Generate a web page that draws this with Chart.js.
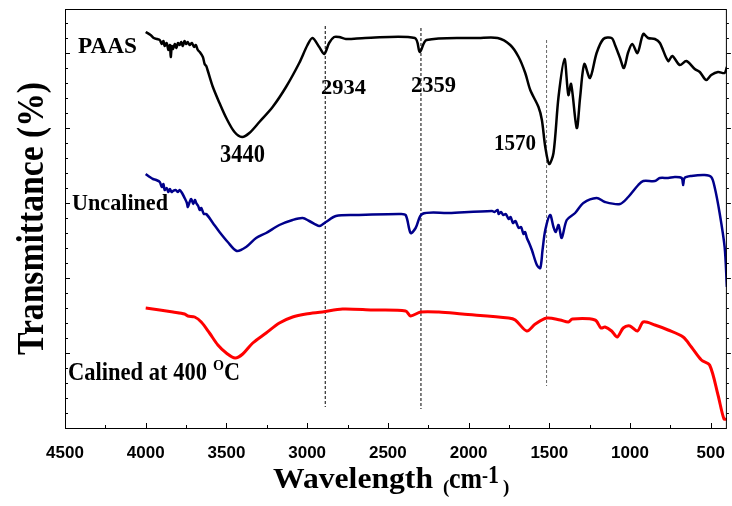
<!DOCTYPE html>
<html>
<head>
<meta charset="utf-8">
<script src="https://cdn.jsdelivr.net/npm/chart.js@4.4.0/dist/chart.umd.min.js"></script>
<style>
  html, body { margin: 0; padding: 0; background: #fff; }
  #grafico { display: block; }
</style>
</head>
<body>
<canvas id="grafico" width="732" height="506"></canvas>
<script>
// wavenumber (cm-1) and transmittance (arbitrary offset units)
const paasWn = [4000, 3970, 3950, 3930, 3913, 3900, 3890, 3883, 3870, 3860, 3850, 3845, 3838, 3831, 3820, 3810, 3800, 3790, 3780, 3770, 3760, 3750, 3740, 3728, 3715, 3700, 3690, 3677, 3665, 3646, 3635, 3625, 3615, 3584, 3543, 3501, 3450, 3403, 3358, 3296, 3214, 3131, 3049, 2998, 2967, 2925, 2894, 2864, 2833, 2802, 2760, 2641, 2333, 2302, 2260, 1937, 1820, 1742, 1690, 1649, 1618, 1567, 1546, 1525, 1501, 1474, 1443, 1406, 1382, 1365, 1330, 1309, 1283, 1248, 1207, 1165, 1114, 1093, 1062, 1038, 1011, 986, 954, 918, 888, 846, 815, 764, 738, 692, 651, 599, 568, 528, 497, 455, 414, 400];
const paasT = [396, 393, 390, 389, 388, 384, 387, 382, 385, 378, 383, 371, 382, 379, 384, 380, 385, 383, 386, 382, 387, 384, 386, 383, 385, 381, 383, 378, 376, 371, 364, 362, 357, 341, 325, 310, 296, 291, 295, 306, 321, 341, 365, 383, 390, 381, 374, 385, 391, 391, 389, 390, 390, 376, 388, 390, 390, 383, 371, 355, 338, 321, 308, 281, 264, 275, 331, 369, 333, 344, 300, 331, 364, 350, 375, 389, 390, 383, 370, 360, 376, 384, 375, 394, 390, 389, 385, 367, 372, 363, 367, 359, 356, 348, 353, 356, 355, 361];

const uncalWn = [4000, 3975, 3955, 3935, 3913, 3900, 3890, 3883, 3870, 3860, 3850, 3840, 3831, 3815, 3800, 3790, 3775, 3759, 3745, 3739, 3728, 3718, 3705, 3695, 3687, 3675, 3665, 3656, 3640, 3625, 3584, 3543, 3492, 3436, 3378, 3316, 3254, 3172, 3090, 3028, 2987, 2925, 2884, 2822, 2699, 2431, 2390, 2359, 2328, 2287, 2123, 1855, 1840, 1820, 1814, 1800, 1785, 1770, 1752, 1740, 1725, 1710, 1690, 1675, 1660, 1650, 1639, 1625, 1608, 1577, 1556, 1542, 1525, 1495, 1474, 1460, 1443, 1423, 1392, 1340, 1289, 1207, 1155, 1062, 1011, 949, 918, 846, 815, 764, 723, 680, 671, 662, 620, 538, 497, 476, 445, 414, 400];
const uncalT = [254, 251, 249, 248, 246, 241, 244, 238, 240, 236, 239, 236, 237, 238, 236, 238, 235, 230, 225, 221, 226, 229, 224, 228, 225, 222, 218, 220, 214, 214, 205, 196, 186, 177, 181, 190, 195, 203, 208, 210, 207, 202, 206, 212, 213, 214, 213, 195, 200, 214, 215, 217, 216, 218, 214, 216, 213, 214, 209, 211, 205, 207, 200, 201, 194, 196, 190, 185, 178, 163, 160, 178, 198, 213, 201, 196, 203, 190, 208, 215, 225, 230, 226, 224, 231, 243, 247, 247, 250, 250, 251, 250, 243, 250, 252, 253, 251, 241, 215, 181, 141];

const calWn = [4000, 3913, 3831, 3759, 3739, 3697, 3656, 3605, 3553, 3501, 3446, 3399, 3337, 3254, 3172, 3090, 3007, 2905, 2781, 2596, 2390, 2359, 2297, 2184, 2040, 1752, 1711, 1639, 1587, 1516, 1433, 1382, 1357, 1217, 1180, 1155, 1114, 1079, 1042, 1001, 954, 918, 846, 764, 671, 620, 558, 507, 455, 418, 400];
const calT = [120, 118, 116, 114, 112, 111, 106, 95, 83, 75, 70, 74, 85, 95, 105, 111, 114, 116, 119, 118, 117, 112, 116, 116, 114, 110, 108, 97, 104, 110, 108, 106, 109, 108, 100, 101, 97, 91, 100, 102, 97, 106, 103, 98, 91, 81, 68, 63, 33, 9, 9];

// reference lines: position and vertical extent
const markWn = [2888, 2295, 1517];
const markTop = [402, 400, 388];
const markBottom = [21, 19, 42];

const xTicks = [4500, 4000, 3500, 3000, 2500, 2000, 1500, 1000, 500];

const puntos = (xs, ys) => xs.map((x, i) => ({ x: x, y: ys[i] }));

const serif = '"Liberation Serif", "Times New Roman", serif';

function texto(ctx, s, x, y, size, width) {
  ctx.save();
  ctx.font = 'bold ' + size + 'px ' + serif;
  const w = ctx.measureText(s).width;
  ctx.translate(x, y);
  if (width) ctx.scale(width / w, 1);
  ctx.fillText(s, 0, 0);
  ctx.restore();
}

const marco = {
  id: 'marco',
  afterDraw(chart) {
    const ctx = chart.ctx;
    const a = chart.chartArea;
    const xs = chart.scales.x;
    ctx.save();
    ctx.strokeStyle = '#000';
    ctx.lineWidth = 1;
    ctx.strokeRect(a.left + 0.5, a.top + 0.5, a.right - a.left - 1, a.bottom - a.top);

    // ticks on the bottom axis
    ctx.beginPath();
    for (let v = 4500; v >= 500; v -= 250) {
      const px = Math.round(xs.getPixelForValue(v)) + 0.5;
      const len = v % 500 === 0 ? 5 : 3;
      ctx.moveTo(px, a.bottom);
      ctx.lineTo(px, a.bottom - len);
    }
    // ticks on left and right sides
    for (let py = a.bottom - 15, i = 1; py > a.top; py -= 15, i++) {
      const len = i % 5 === 0 ? 5 : 3;
      ctx.moveTo(a.left, Math.round(py) + 0.5);
      ctx.lineTo(a.left + len, Math.round(py) + 0.5);
      ctx.moveTo(a.right, Math.round(py) + 0.5);
      ctx.lineTo(a.right + len - 1, Math.round(py) + 0.5);
    }
    ctx.stroke();

    ctx.fillStyle = '#000';
    ctx.textBaseline = 'alphabetic';
    texto(ctx, 'PAAS', 78, 53, 24, 59);
    texto(ctx, '3440', 220, 162, 25, 45);
    texto(ctx, '2934', 321, 94, 22, 45);
    texto(ctx, '2359', 411, 92, 23, 45);
    texto(ctx, '1570', 494, 150, 24, 42);
    texto(ctx, 'Uncalined', 72, 210, 24, 96);
    texto(ctx, 'Calined at 400', 68, 380, 25, 139);
    texto(ctx, 'O', 213, 370, 15, 11);
    texto(ctx, 'C', 224, 380, 25, 16);

    // axis titles
    texto(ctx, 'Wavelength', 273, 488, 29, 160);
    texto(ctx, '(', 443, 493, 19);
    texto(ctx, 'cm', 449, 488, 29, 33);
    texto(ctx, '-', 482, 482, 22, 6);
    texto(ctx, '1', 488, 483, 25, 11);
    texto(ctx, ')', 503, 493, 19);

    ctx.save();
    ctx.translate(43, 355);
    ctx.rotate(-Math.PI / 2);
    texto(ctx, 'Transmittance (%)', 0, 0, 38, 273);
    ctx.restore();
    ctx.restore();
  }
};

const curva = (data, color, ancho) => ({
  data: data,
  borderColor: color,
  borderWidth: ancho,
  pointRadius: 0,
  tension: 0.3,
  fill: false
});

const marcas = markWn.map((w, i) => ({
  data: [{ x: w, y: markTop[i] }, { x: w, y: markBottom[i] }],
  borderColor: i === 2 ? '#666' : '#000',
  borderWidth: 1,
  borderDash: [3, 2],
  pointRadius: 0,
  fill: false
}));

const ctx = document.getElementById('grafico').getContext('2d');

new Chart(ctx, {
  type: 'line',
  data: {
    datasets: [
      curva(puntos(paasWn, paasT), '#000000', 2.5),
      curva(puntos(uncalWn, uncalT), '#00008b', 2.5),
      curva(puntos(calWn, calT), '#ff0000', 3)
    ].concat(marcas)
  },
  options: {
    responsive: false,
    animation: false,
    devicePixelRatio: 1,
    layout: { padding: { top: 9, right: 3, left: 0, bottom: 0 } },
    plugins: {
      legend: { display: false },
      tooltip: { enabled: false }
    },
    scales: {
      x: {
        type: 'linear',
        reverse: true,
        min: 400,
        max: 4500,
        grid: { display: false },
        border: { display: false },
        afterBuildTicks: (scale) => {
          scale.ticks = xTicks.map(v => ({ value: v }));
        },
        afterFit: (scale) => { scale.height = 78; },
        ticks: {
          autoSkip: false,
          maxRotation: 0,
          padding: 7,
          color: '#000',
          font: { family: '"Liberation Sans", Arial, sans-serif', size: 17, weight: 'bold' },
          callback: (v) => String(v)
        }
      },
      y: {
        min: 0,
        max: 419,
        grid: { display: false },
        border: { display: false },
        ticks: { display: false },
        afterFit: (scale) => { scale.width = 65; }
      }
    }
  },
  plugins: [marco]
});
</script>
</body>
</html>
